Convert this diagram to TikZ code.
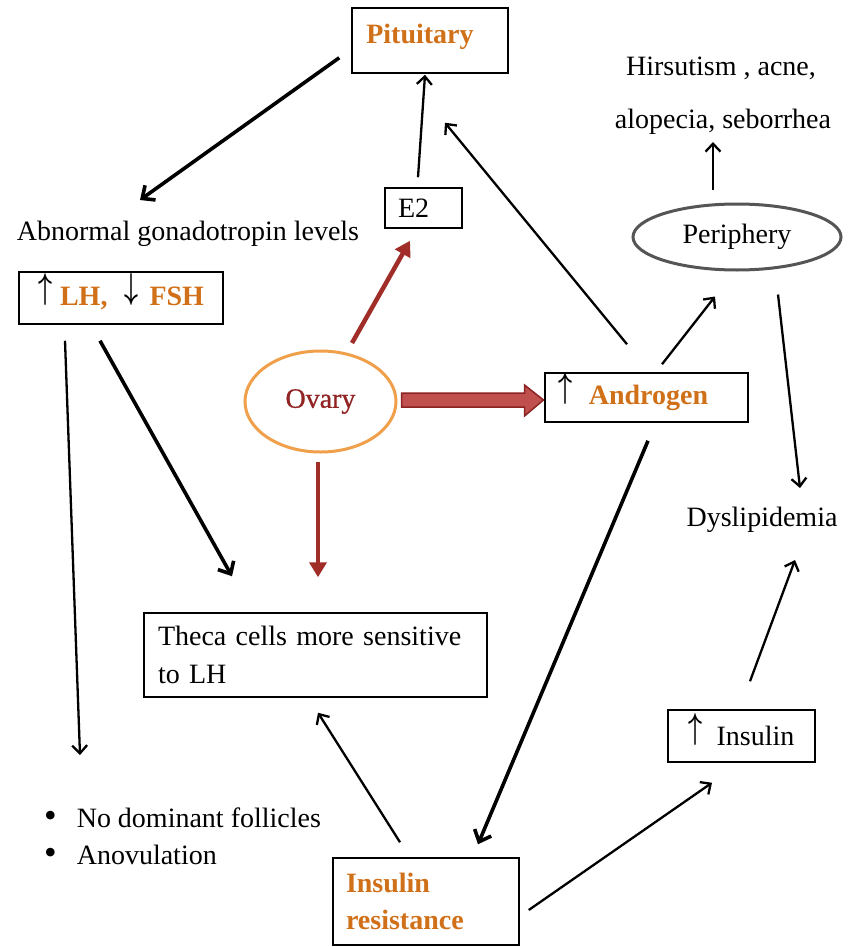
\documentclass[tikz,border=0pt]{standalone}
\usepackage{fontspec}
\setmainfont{Liberation Serif}
\usetikzlibrary{arrows.meta,calc,shapes.geometric}
\definecolor{orangeT}{RGB}{208,112,24}
\definecolor{ovred}{RGB}{145,35,35}
\definecolor{arrred}{RGB}{160,45,40}
\definecolor{ovline}{RGB}{240,160,75}
\definecolor{periline}{RGB}{85,85,85}
\definecolor{blockfill}{RGB}{192,80,77}
\definecolor{blockdraw}{RGB}{140,35,35}
\newcommand{\upa}{\smash{\raisebox{7pt}{\resizebox*{14pt}{32pt}{$\boldsymbol{\uparrow}$}}}}
\newcommand{\dna}{\smash{\raisebox{7pt}{\resizebox*{14pt}{32pt}{$\boldsymbol{\downarrow}$}}}}
\usepackage{amsmath}
\begin{document}
\begin{tikzpicture}[x=1pt,y=-1pt,
  every node/.style={font=\fontsize{28}{37}\selectfont, inner sep=0pt},
  boxn/.style={draw=black, line width=1.5pt},
  thin/.style={draw=black, line width=2.3pt, -{Straight Barb[length=8pt,width=15pt]}},
  thick/.style={draw=black, line width=3.6pt, -{Straight Barb[length=10pt,width=18pt]}},
  redarrow/.style={draw=arrred, line width=4.5pt, -{Triangle[length=15pt,width=17pt]}},
  blockarrow/.style={fill=blockfill, draw=blockdraw, line width=1.5pt, line join=miter}]
\useasboundingbox[fill=white] (0,0) rectangle (851,947);

% nodes
\node[boxn, minimum width=156pt, minimum height=65pt] (pit) at (430,40.5) {\hspace*{-20pt}\raisebox{14pt}{\textcolor{orangeT}{\bfseries Pituitary}}};
\node (abn) at (188,234) {Abnormal gonadotropin levels};
\node[boxn, minimum width=204pt, minimum height=52pt] (lh) at (121,298) {\upa\hspace{8pt}\textcolor{orangeT}{\bfseries LH,}\hspace{17pt}\dna\hspace{11pt}\textcolor{orangeT}{\bfseries FSH}};
\node[boxn, minimum width=77pt, minimum height=40pt, text width=51pt, inner xsep=13pt, align=left] (e2) at (423.5,208) {E2};
\node[ellipse, draw=ovline, line width=3pt, minimum width=151pt, minimum height=101pt, text=ovred] (ovary) at (320.5,401.5) {\addfontfeature{FakeBold=0.8}Ovary};
\node[boxn, minimum width=203pt, minimum height=49pt] (andr) at (646.5,397.5) {\upa\hspace{16pt}\textcolor{orangeT}{\bfseries Androgen}\hspace*{26pt}};
\node[ellipse, draw=periline, line width=3pt, minimum width=208pt, minimum height=66pt] (per) at (737,237) {Periphery};
\node (hir1) at (721,68) {Hirsutism , acne,};
\node (hir2) at (723,122) {alopecia, seborrhea};
\node (dys) at (762,520) {Dyslipidemia};
\node[boxn, minimum width=147pt, minimum height=52pt] (ins) at (741.5,736) {\upa\hspace{14pt}Insulin};
\node[boxn, minimum width=186pt, minimum height=87pt, text width=160pt, inner xsep=13pt, align=left, text=orangeT, font=\fontsize{28}{37}\selectfont\bfseries] (ir) at (426,901.5) {Insulin\\resistance};
\node[boxn, minimum width=343pt, minimum height=84pt, text width=315pt, inner xsep=14pt, align=left, font=\fontsize{28}{38}\selectfont] (theca) at (315.5,655) {Theca cells more sensitive\\to LH};
\node[anchor=west] (bul1) at (44,818) {{\fontsize{36}{36}\selectfont •}\hspace{20pt}No dominant follicles};
\node[anchor=west] (bul2) at (44,855) {{\fontsize{36}{36}\selectfont •}\hspace{20pt}Anovulation};

% connectors
\draw[thick] ($(pit.south west)+(-12,-16)$) -- ($(abn)+(-48,-34)$);
\draw[thin] ($(e2.north)+(-5.5,-10)$) -- ($(pit.south)+(-5,1)$);
\draw[thin] ($(andr.north)+(-19.5,-28)$) -- ($(pit.south)+(15,49)$);
\draw[redarrow] ($(ovary)+(31.5,-58.5)$) -- ($(e2.south)+(-13.5,12)$);
\draw[blockarrow] ($(ovary.east)+(4,-8.5)$) -- ++(123,0) -- ++(0,-8) -- ++(19,15) -- ++(-19,16) -- ++(0,-9) -- ++(-123,0) -- cycle;
\draw[redarrow] ($(ovary.south)+(-2.5,8)$) -- ($(theca.north)+(2.5,-35)$);
\draw[thin] ($(andr.north)+(15.5,-8)$) -- ($(per.south)+(-22,25)$);
\draw[thin] ($(per.north)+(-24,-13)$) -- ($(hir2)+(-10,20)$);
\draw[thin] ($(per.south)+(41,23)$) -- ($(dys)+(38,-32)$);
\draw[thin] ($(ins.north)+(8.5,-28)$) -- ($(dys)+(33,40)$);
\draw[thin] ($(ir.east)+(9,8.5)$) -- ($(ins.south)+(-29.5,20)$);
\draw[thick] ($(andr.south)+(1.5,18)$) -- ($(ir.north)+(52,-13)$);
\draw[thin] ($(ir.north)+(-26,-15)$) -- ($(theca.south)+(2.5,15)$);
\draw[thick] ($(lh.south)+(-21,16)$) -- ($(theca.north)+(-83.5,-36)$);
\draw[thin] ($(lh.south)+(-56,16)$) -- ($(bul1.west)+(36,-63)$);
\end{tikzpicture}
\end{document}
